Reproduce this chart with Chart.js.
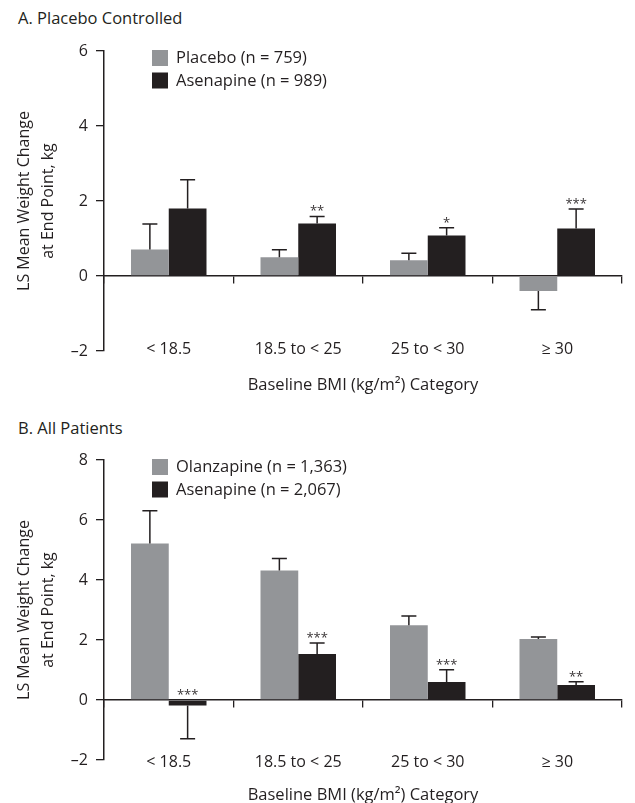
<!DOCTYPE html>
<html>
<head>
<meta charset="utf-8">
<script src="https://cdn.jsdelivr.net/npm/chart.js@4.4.1/dist/chart.umd.min.js"></script>
<style>
  html, body { margin: 0; padding: 0; background: #fff; overflow: hidden; }
  body { width: 635px; height: 803px; position: relative; font-family: 'Open Sans', sans-serif; color: #231f20; }
  .panel-label { position: absolute; left: 18px; font-size: 16.5px; line-height: 20px; }
  .box { position: absolute; left: 0; width: 635px; }
</style>
</head>
<body>
<div class="panel-label" style="top: 8px;">A. Placebo Controlled</div>
<div class="box" style="top: 0; height: 400px;"><canvas id="chartA"></canvas></div>
<div class="panel-label" style="top: 418px;">B. All Patients</div>
<div class="box" style="top: 400px; height: 403px;"><canvas id="chartB"></canvas></div>
<script>
// BMI categories (x axis)
const categories = ['< 18.5', '18.5 to < 25', '25 to < 30', '\u2265 30'];

// Panel A: placebo controlled, LS mean weight change (kg) and SE
const placeboMean = [0.71, 0.50, 0.42, -0.40];
const placeboSE = [0.68, 0.20, 0.19, 0.50];
const asenapineAMean = [1.80, 1.40, 1.08, 1.27];
const asenapineASE = [0.77, 0.19, 0.21, 0.52];
const starsA = ['', '**', '*', '***'];

// Panel B: all patients
const olanzapineMean = [5.22, 4.32, 2.49, 2.03];
const olanzapineSE = [1.09, 0.40, 0.31, 0.07];
const asenapineBMean = [-0.18, 1.53, 0.60, 0.50];
const asenapineBSE = [1.11, 0.37, 0.41, 0.11];
const starsB = ['***', '***', '***', '**'];

const TEXT = '#231f20';
const GRAY = '#939598';
const BLACK = '#231f20';
const FONT = "'Open Sans', sans-serif";

// Error bars (one-sided, away from zero) and significance stars
const errorBarPlugin = {
    id: 'errorBars',
    afterDatasetsDraw(chart, args, opts) {
        const ctx = chart.ctx;
        const yScale = chart.scales.y;
        ctx.save();
        ctx.strokeStyle = BLACK;
        ctx.lineWidth = 1.5;
        chart.data.datasets.forEach((ds, i) => {
            const meta = chart.getDatasetMeta(i);
            meta.data.forEach((bar, j) => {
                const v = ds.data[j];
                const end = v + (v < 0 ? -1 : 1) * ds.errors[j];
                const yEnd = yScale.getPixelForValue(end);
                ctx.beginPath();
                ctx.moveTo(bar.x, yScale.getPixelForValue(v));
                ctx.lineTo(bar.x, yEnd);
                ctx.moveTo(bar.x - 7.5, yEnd);
                ctx.lineTo(bar.x + 7.5, yEnd);
                ctx.stroke();
            });
        });

        // stars above the second series
        const ds = chart.data.datasets[1];
        const meta = chart.getDatasetMeta(1);
        ctx.fillStyle = '#3a3637';
        ctx.font = '13px ' + FONT;
        ctx.textAlign = 'center';
        ctx.textBaseline = 'alphabetic';
        opts.stars.forEach((s, j) => {
            if (!s) return;
            const v = ds.data[j];
            const end = v + (v < 0 ? -1 : 1) * ds.errors[j];
            const top = yScale.getPixelForValue(Math.max(0, v, end));
            ctx.fillText(s, meta.data[j].x, top - 1);
        });
        ctx.restore();
    }
};

// Legend squares inside the plot, and the x axis title
const extrasPlugin = {
    id: 'extras',
    afterDraw(chart, args, opts) {
        const ctx = chart.ctx;
        const area = chart.chartArea;
        ctx.save();
        ctx.font = '16.5px ' + FONT;
        ctx.textBaseline = 'middle';
        ctx.textAlign = 'left';
        chart.data.datasets.forEach((ds, i) => {
            const x = area.left + 48;
            const y = area.top - 1 + i * 22.5;
            ctx.fillStyle = ds.backgroundColor;
            ctx.fillRect(x, y, 16, 16);
            ctx.fillStyle = TEXT;
            ctx.fillText(ds.label, x + 24, y + 8.5);
        });
        ctx.textAlign = 'center';
        ctx.textBaseline = 'alphabetic';
        ctx.fillText(opts.xTitle, (area.left + area.right) / 2, area.bottom + opts.xTitleGap);
        ctx.restore();
    }
};

function makeChart(id, labels, series, yMax, pad, tickPad, stars, titleGap) {
    return new Chart(document.getElementById(id), {
        type: 'bar',
        data: {
            labels: labels,
            datasets: series.map(s => ({
                label: s.label,
                data: s.data,
                errors: s.errors,
                backgroundColor: s.color,
                borderWidth: 0,
                categoryPercentage: 0.583,
                barPercentage: 1.0
            }))
        },
        options: {
            responsive: true,
            maintainAspectRatio: false,
            animation: false,
            layout: { padding: pad },
            plugins: {
                legend: { display: false },
                tooltip: { enabled: false },
                errorBars: { stars: stars },
                extras: { xTitle: 'Baseline BMI (kg/m\u00b2) Category', xTitleGap: titleGap }
            },
            scales: {
                x: {
                    position: { y: 0 },
                    offset: true,
                    grid: { drawOnChartArea: false, offset: true, tickLength: 7, color: BLACK, lineWidth: 1.3 },
                    border: { display: true, color: BLACK, width: 1.5 },
                    ticks: { color: TEXT, font: { family: FONT, size: 16 }, padding: tickPad, autoSkip: false, maxRotation: 0 }
                },
                y: {
                    min: -2,
                    max: yMax,
                    afterFit: scale => { scale.width = 104; },
                    grid: { drawOnChartArea: false, tickLength: 8, color: BLACK, lineWidth: 1.3 },
                    border: { display: true, color: BLACK, width: 1.5 },
                    ticks: {
                        stepSize: 2,
                        padding: 8,
                        color: TEXT,
                        font: { family: FONT, size: 16 },
                        callback: v => (v < 0 ? '\u2013' + Math.abs(v) : String(v))
                    },
                    title: {
                        display: true,
                        text: ['LS Mean Weight Change', 'at End Point, kg'],
                        color: TEXT,
                        font: { family: FONT, size: 16, lineHeight: '24px' },
                        padding: { top: 12, bottom: 0 }
                    }
                }
            }
        },
        plugins: [errorBarPlugin, extrasPlugin]
    });
}

makeChart('chartA', categories, [
    { label: 'Placebo (n = 759)', data: placeboMean, errors: placeboSE, color: GRAY },
    { label: 'Asenapine (n = 989)', data: asenapineAMean, errors: asenapineASE, color: BLACK }
], 6, { top: 51, bottom: 49, left: 0, right: 13 }, 57, starsA, 39);

makeChart('chartB', categories, [
    { label: 'Olanzapine (n = 1,363)', data: olanzapineMean, errors: olanzapineSE, color: GRAY },
    { label: 'Asenapine (n = 2,067)', data: asenapineBMean, errors: asenapineBSE, color: BLACK }
], 8, { top: 60, bottom: 43, left: 0, right: 13 }, 46, starsB, 40);
</script>
</body>
</html>
